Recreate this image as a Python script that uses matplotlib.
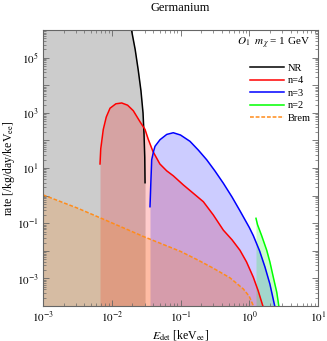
import numpy as np
import matplotlib
matplotlib.use('Agg')
import matplotlib.pyplot as plt
from matplotlib.ticker import LogLocator, FuncFormatter, NullFormatter

plt.rcParams['font.family'] = ['Liberation Serif', 'DejaVu Serif']
plt.rcParams['mathtext.fontset'] = 'stix'

# energies in keVee, rates in /kg/day/keVee
E_nr = [0.0190, 0.0219, 0.0243, 0.0266, 0.0285, 0.0295, 0.0302, 0.0305]
R_nr = [1.3e6, 2e5, 3.5e4, 6300, 1000, 160, 25, 2.95]

E_n4 = [0.00675, 0.00692, 0.00753, 0.00832, 0.00944, 0.01148, 0.01396, 0.0170, 0.02056,
        0.02576, 0.03048, 0.0339, 0.0398, 0.0501, 0.0630, 0.0785, 0.110, 0.153, 0.215,
        0.300, 0.420, 0.562, 0.733, 0.912, 1.146, 1.349, 1.60]
R_n4 = [14.1, 50, 251, 708, 1479, 2138, 2291, 1905, 1202,
        479, 251, 112, 39.8, 14.1, 7.94, 5.25, 2.45, 1.23, 0.603,
        0.2, 0.0562, 0.0251, 0.01047, 0.00398, 0.0011, 3.55e-4, 8.9e-5]

E_n3 = [0.0360, 0.0372, 0.0381, 0.0407, 0.0426, 0.0504, 0.0631, 0.0785, 0.1, 0.1374,
        0.182, 0.2404, 0.316, 0.420, 0.562, 0.733, 1.0, 1.146, 1.413, 1.694, 1.995, 2.371]
R_n3 = [0.398, 3.98, 20, 41.7, 61.7, 107, 166, 191, 158, 93.3,
        44.7, 20, 7.94, 2.82, 0.891, 0.282, 0.0708, 0.0355, 0.01, 0.00257, 6.3e-4, 8.9e-5]

E_n2 = [1.253, 1.318, 1.514, 1.795, 1.995, 2.239, 2.512, 2.710]
R_n2 = [0.151, 0.0891, 0.0355, 0.01047, 0.00398, 0.0011, 3.16e-4, 8.9e-5]

E_brem = [0.001, 0.00316, 0.00676, 0.0302, 0.1, 0.178, 0.295, 0.525, 0.818, 1.0, 1.175]
R_brem = [1.07, 0.355, 0.158, 0.0316, 0.00955, 0.00468, 0.0024, 0.00105, 4.17e-4, 2.24e-4, 8.9e-5]

fig = plt.figure(figsize=(3.27, 3.41), dpi=100)
ax = fig.add_axes([0.1315, 0.1026, 0.841, 0.809])

floor = 1e-5
# shaded areas (Mathematica style filling to axis)
ax.fill_between([0.001] + E_nr, floor, [R_nr[0]] + R_nr, color='k', alpha=0.2, lw=0)
ax.fill_between(E_n4, floor, R_n4, color='r', alpha=0.2, lw=0)
ax.fill_between(E_n3, floor, R_n3, color='b', alpha=0.2, lw=0)
ax.fill_between(E_n2, floor, R_n2, color='#00ff00', alpha=0.2, lw=0)
ax.fill_between(E_brem, floor, R_brem, color='#ff8000', alpha=0.2, lw=0)

ax.plot(E_nr, R_nr, color='k', lw=1.1, label='NR')
ax.plot(E_n4, R_n4, color='r', lw=1.1, label='n=4')
ax.plot(E_n3, R_n3, color='b', lw=1.1, label='n=3')
ax.plot(E_n2, R_n2, color='#00ff00', lw=1.1, label='n=2')
ax.plot(E_brem, R_brem, color='#ff8c1a', lw=1.1, ls=(0, (2.5, 1.2)), label='Brem')

ax.set_xscale('log')
ax.set_yscale('log')
ax.set_xlim(1e-3, 10)
ax.set_ylim(1e-4, 1e6)

ax.xaxis.set_major_locator(LogLocator(base=10, numticks=10))
ax.xaxis.set_minor_locator(LogLocator(base=10, subs=np.arange(2, 10), numticks=20))
ax.yaxis.set_major_locator(LogLocator(base=10, numticks=20))
ax.yaxis.set_minor_locator(LogLocator(base=10, subs=np.arange(2, 10), numticks=40))

def xfmt(v, pos):
    return r'$10^{%d}$' % round(np.log10(v))

def yfmt(v, pos):
    p = int(round(np.log10(v)))
    if p % 2 == 0:
        return ''
    return r'$10^{%d}$' % p

ax.xaxis.set_major_formatter(FuncFormatter(xfmt))
ax.yaxis.set_major_formatter(FuncFormatter(yfmt))
ax.xaxis.set_minor_formatter(NullFormatter())
ax.yaxis.set_minor_formatter(NullFormatter())

ax.tick_params(which='both', direction='in', top=True, right=True, colors='#666666',
               labelcolor='k', labelsize=8, pad=3)
ax.tick_params(which='major', length=4, width=0.6)
ax.tick_params(which='minor', length=2, width=0.5)
for s in ax.spines.values():
    s.set_color('#666666')
    s.set_linewidth(0.8)

ax.set_title('Germanium', fontsize=9, pad=14)
ax.set_xlabel(r'$E_{\rm det}$ [keV$_{\rm ee}$]', fontsize=8.5, labelpad=2)
ax.set_ylabel(r'rate [/kg/day/keV$_{\rm ee}$]', fontsize=8.5, labelpad=0)

ax.text(0.97, 0.95, r'$O_1$  $m_\chi$ = 1 GeV', transform=ax.transAxes,
        ha='right', va='center', fontsize=8)

leg = ax.legend(loc='upper right', bbox_to_anchor=(1.0, 0.905), frameon=False,
                fontsize=7.5, handlelength=3.2, handletextpad=0.4, labelspacing=0.3,
                borderaxespad=0.3)

plt.savefig('out.png', dpi=100)
